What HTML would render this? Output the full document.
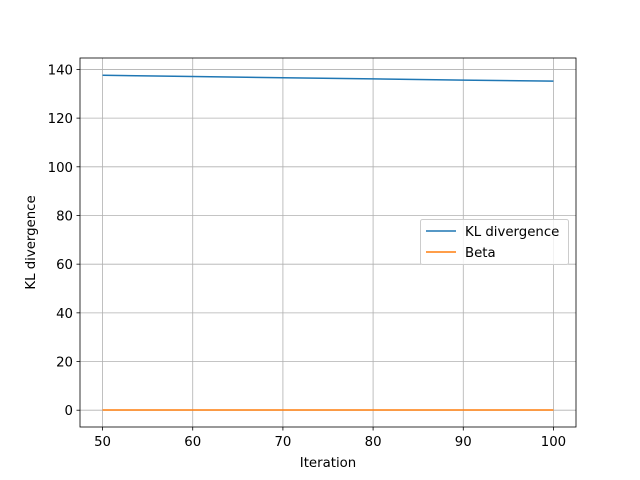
<!DOCTYPE html>
<html><head><meta charset="utf-8"><style>body{margin:0;background:#fff}svg{display:block;font-family:"DejaVu Sans","Liberation Sans",sans-serif}</style></head>
<body>
<svg id="c" width="640" height="480" xmlns="http://www.w3.org/2000/svg"></svg>
<script>
const iterations=[50,60,70,80,90,100];
const klValues=[137.6,137.1,136.6,136.1,135.6,135.2];
const betaValues=[0.1,0.1,0.1,0.1,0.1,0.1];
const xTicks=[50,60,70,80,90,100];
const yTicks=[0,20,40,60,80,100,120,140];
const L=80,R=576,T=58,B=427;
const xmin=47.5,xmax=102.5,ymin=-6.9,ymax=144.7;
const FS=13.3;
const sx=v=>L+(v-xmin)/(xmax-xmin)*(R-L);
const sy=v=>B-(v-ymin)/(ymax-ymin)*(B-T);
const svg=document.getElementById('c');const NS='http://www.w3.org/2000/svg';
function mk(t,a,txt){const e=document.createElementNS(NS,t);for(const k in a)e.setAttribute(k,a[k]);if(txt!=null)e.textContent=txt;svg.appendChild(e);return e;}
xTicks.forEach(v=>{const x=sx(v);
const g=mk('line',{x1:x,x2:x,y1:T,y2:B,stroke:'#b0b0b0','stroke-width':0.8});


const t=mk('line',{x1:x,x2:x,y1:B,y2:B+3.5,stroke:'#000','stroke-width':0.8});


const l=mk('text',{x:x,y:B+19,'font-size':FS,'text-anchor':'middle'},v);

});
yTicks.forEach(v=>{const y=sy(v);
const g=mk('line',{x1:L,x2:R,y1:y,y2:y,stroke:'#b0b0b0','stroke-width':0.8});


const t=mk('line',{x1:L-3.5,x2:L,y1:y,y2:y,stroke:'#000','stroke-width':0.8});


const l=mk('text',{x:L-7,y:y+5,'font-size':FS,'text-anchor':'end'},v);

});
function series(vals,color,name){const d=iterations.map((x,i)=>(i?'L':'M')+sx(x)+','+sy(vals[i])).join('');
const p=mk('path',{d:d,fill:'none',stroke:color,'stroke-width':1.5});

}
series(klValues,'#1f77b4','kl-divergence-line');
series(betaValues,'#ff7f0e','beta-line');
const f=mk('rect',{x:L,y:T,width:R-L,height:B-T,fill:'none',stroke:'#000','stroke-width':0.8});


const xt=mk('text',{x:(L+R)/2,y:467,'font-size':FS,'text-anchor':'middle'},'Iteration');


const yt=mk('text',{x:0,y:0,'font-size':FS,'text-anchor':'middle',transform:'translate(35,242.5) rotate(-90)'},'KL divergence');


const lg=mk('rect',{x:420.5,y:219.5,width:148,height:45,rx:2,fill:'#fff','fill-opacity':0.8,stroke:'#ccc','stroke-width':1});


[['KL divergence','#1f77b4',231],['Beta','#ff7f0e',252]].forEach(([n,c,y])=>{
const ln=mk('line',{x1:426,x2:456,y1:y,y2:y,stroke:c,'stroke-width':1.5});


const tx=mk('text',{x:465,y:y+5,'font-size':FS},n);

});
</script>
</body></html>
